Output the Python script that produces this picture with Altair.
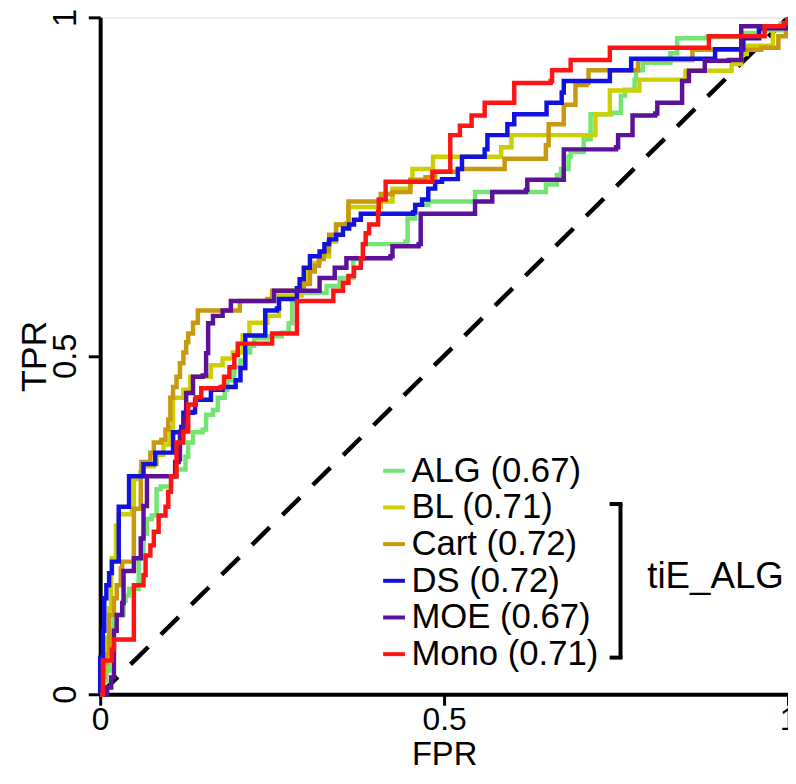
import altair as alt
import pandas as pd

# ---- data (FPR, TPR) vertices ----
series_names = ["ALG (0.67)", "BL (0.71)", "Cart (0.72)", "DS (0.72)", "MOE (0.67)", "Mono (0.71)"]
series_colors = ["#74e474", "#cdd000", "#c8980e", "#1212e0", "#5c119a", "#ff1414"]

alg_fpr = [0, .003, .006, .009, .013, .020, .034, .037, .042, .056, .063, .068, .075, .082, .088, .095, .103, .111, .124, .128, .135, .149, .154, .164, .171, .181, .185, .195, .204, .211, .218, .224, .243, .264, .274, .279, .279, .286, .329, .348, .368, .368, .382, .382, .420, .444, .447, .458, .458, .477, .545, .545, .648, .648, .664, .670, .681, .684, .703, .713, .743, .757, .763, .777, .779, .789, .829, .839, .882, .932, .957, .990, 1]
alg_tpr = [0, .010, .020, .035, .069, .117, .138, .146, .156, .201, .237, .259, .264, .303, .307, .307, .322, .332, .351, .372, .387, .391, .413, .420, .438, .450, .464, .483, .493, .505, .515, .526, .529, .534, .548, .562, .581, .593, .603, .615, .621, .643, .654, .665, .665, .669, .703, .706, .723, .728, .728, .742, .742, .753, .767, .776, .794, .801, .820, .857, .859, .884, .893, .908, .922, .933, .947, .969, .971, .977, .981, .991, 1]

bl_fpr = [0, .003, .006, .010, .013, .016, .017, .023, .027, .046, .049, .056, .060, .078, .082, .092, .102, .106, .116, .121, .131, .161, .168, .178, .193, .207, .217, .236, .243, .260, .260, .293, .293, .300, .312, .319, .333, .343, .358, .361, .408, .425, .451, .454, .484, .484, .580, .583, .598, .598, .720, .720, .741, .741, .784, .784, .846, .851, .914, .918, .932, .940, .978, 1]
bl_tpr = [0, .032, .054, .083, .127, .179, .201, .249, .266, .274, .318, .322, .337, .340, .354, .369, .394, .438, .438, .450, .469, .486, .486, .496, .505, .530, .549, .549, .559, .567, .589, .592, .611, .625, .637, .647, .669, .694, .695, .720, .728, .747, .760, .776, .779, .794, .794, .808, .811, .826, .826, .857, .857, .892, .892, .908, .908, .921, .921, .931, .946, .958, .984, 1]

cart_fpr = [0, .003, .006, .009, .013, .020, .024, .030, .032, .046, .049, .056, .059, .060, .073, .078, .089, .095, .099, .102, .106, .111, .116, .121, .125, .128, .135, .142, .203, .203, .243, .250, .286, .296, .305, .312, .318, .325, .332, .333, .343, .358, .361, .404, .408, .425, .451, .451, .473, .487, .520, .588, .588, .645, .648, .652, .674, .674, .691, .691, .707, .710, .782, .782, .861, .861, .961, .986, .986, .997, 1]
cart_tpr = [0, .025, .047, .059, .117, .142, .161, .186, .196, .196, .274, .274, .328, .343, .357, .372, .376, .391, .406, .438, .454, .469, .489, .505, .520, .533, .549, .567, .567, .581, .584, .596, .596, .606, .625, .633, .643, .654, .669, .679, .694, .695, .728, .728, .739, .742, .742, .760, .764, .772, .776, .776, .791, .791, .811, .842, .842, .871, .874, .900, .903, .922, .922, .937, .937, .952, .955, .956, .972, .991, 1]

ds_fpr = [0, 0, .004, .006, .009, .013, .017, .027, .027, .042, .042, .063, .063, .080, .080, .102, .106, .118, .121, .135, .138, .161, .161, .178, .197, .197, .204, .211, .211, .240, .240, .257, .260, .286, .286, .290, .296, .305, .319, .326, .333, .343, .353, .362, .369, .379, .455, .458, .468, .477, .477, .487, .497, .520, .520, .526, .526, .559, .559, .563, .591, .592, .602, .648, .649, .659, .671, .674, .739, .741, .770, .772, .894, .894, .935, .935, .958, .958, 1]
ds_tpr = [0, .054, .094, .142, .161, .179, .196, .196, .277, .277, .322, .322, .340, .340, .357, .357, .387, .395, .416, .417, .435, .442, .450, .454, .454, .464, .482, .498, .530, .533, .567, .570, .584, .584, .600, .613, .630, .647, .654, .665, .672, .679, .688, .694, .701, .710, .712, .723, .731, .738, .747, .757, .761, .767, .776, .786, .794, .794, .805, .826, .826, .842, .857, .857, .874, .874, .889, .906, .906, .922, .922, .939, .939, .953, .953, .969, .969, .984, 1]

moe_fpr = [0, .006, .010, .016, .020, .024, .032, .034, .034, .045, .049, .053, .059, .063, .068, .099, .109, .114, .116, .121, .125, .135, .149, .154, .157, .164, .178, .190, .253, .253, .318, .319, .341, .341, .358, .422, .425, .463, .466, .545, .545, .570, .570, .619, .621, .674, .674, .750, .753, .774, .774, .807, .810, .846, .846, .856, .878, .879, .914, .932, .932, .961, 1]
moe_tpr = [0, 0, .010, .025, .094, .117, .135, .146, .182, .182, .201, .201, .230, .278, .322, .322, .343, .347, .388, .406, .445, .469, .471, .504, .548, .559, .567, .581, .584, .596, .596, .615, .615, .630, .644, .647, .662, .665, .710, .713, .728, .728, .742, .745, .760, .760, .805, .808, .826, .826, .855, .858, .874, .874, .906, .921, .921, .936, .937, .960, .987, .987, 1]

mono_fpr = [0, .004, .016, .017, .020, .049, .049, .063, .066, .073, .078, .085, .095, .099, .103, .111, .121, .128, .139, .147, .175, .180, .188, .195, .200, .247, .250, .282, .286, .339, .339, .353, .361, .369, .379, .382, .386, .391, .404, .405, .415, .483, .483, .507, .509, .520, .523, .540, .559, .598, .602, .655, .657, .684, .684, .741, .741, .885, .885, .966, .966, .994, 1]
mono_tpr = [0, .050, .050, .066, .081, .081, .161, .176, .205, .220, .240, .264, .277, .299, .322, .372, .388, .428, .439, .452, .454, .469, .483, .501, .518, .518, .533, .533, .581, .584, .596, .608, .618, .630, .644, .665, .681, .694, .713, .731, .757, .760, .772, .772, .826, .826, .840, .855, .874, .874, .903, .906, .922, .922, .937, .940, .955, .955, .972, .972, .987, .991, 1]

diag_fpr = [0, 1]
diag_tpr = [0, 1]

x_ticks = [0, 0.5, 1]
y_ticks = [0, 0.5, 1]
group_label = "tiE_ALG"

FONT = "Liberation Sans"
W, H = 694, 683

rows = []
for name, fx, ty in zip(series_names,
                        [alg_fpr, bl_fpr, cart_fpr, ds_fpr, moe_fpr, mono_fpr],
                        [alg_tpr, bl_tpr, cart_tpr, ds_tpr, moe_tpr, mono_tpr]):
    for i, (a, b) in enumerate(zip(fx, ty)):
        rows.append({"model": name, "FPR": a, "TPR": b, "i": i})
df = pd.DataFrame(rows)
diag = pd.DataFrame({"FPR": diag_fpr, "TPR": diag_tpr})

xscale = alt.Scale(domain=[0, 1], nice=False, zero=False)
yscale = alt.Scale(domain=[0, 1], nice=False, zero=False)

x_axis = alt.Axis(values=x_ticks, title="FPR", grid=False, format="~g",
                  labelFontSize=32, titleFontSize=33, labelFont=FONT, titleFont=FONT,
                  labelColor="black", titleColor="black", titleFontWeight="normal",
                  domainColor="black", domainWidth=4, tickColor="black", tickWidth=3,
                  tickSize=11, labelPadding=0, labelFlush=False, labelOverlap=False,
                  titleX=W / 2, titleY=71, titleAlign="center", titleBaseline="alphabetic")
y_axis = alt.Axis(values=y_ticks, title="TPR", grid=False, format="~g",
                  labelFontSize=33, titleFontSize=36, labelFont=FONT, titleFont=FONT,
                  labelColor="black", titleColor="black", titleFontWeight="normal",
                  domainColor="black", domainWidth=4, tickColor="black", tickWidth=3,
                  tickSize=12, labelPadding=6, labelAngle=270,
                  labelAlign="center", labelBaseline="bottom", labelFlush=False,
                  labelOverlap=False,
                  titleX=-47, titleY=H / 2, titleAngle=270, titleAlign="center",
                  titleBaseline="bottom")

diag_line = alt.Chart(diag).mark_line(color="black", strokeWidth=4.5, strokeDash=[25, 18]).encode(
    x=alt.X("FPR:Q", scale=xscale, axis=x_axis),
    y=alt.Y("TPR:Q", scale=yscale, axis=y_axis),
)

curves = alt.Chart(df).mark_line(strokeWidth=4.5, interpolate="step-after").encode(
    x=alt.X("FPR:Q", scale=xscale, axis=x_axis),
    y=alt.Y("TPR:Q", scale=yscale, axis=y_axis),
    color=alt.Color("model:N", sort=series_names,
                    scale=alt.Scale(domain=series_names, range=series_colors),
                    legend=alt.Legend(title=None, orient="none", legendX=279, legendY=440,
                                      symbolType="stroke", symbolSize=484, symbolStrokeWidth=4,
                                      labelFontSize=35, labelFont=FONT, labelColor="black",
                                      labelOffset=0, rowPadding=1, padding=0,
                                      labelLimit=400)),
    order=alt.Order("i:Q"),
)

bracket_df = pd.DataFrame({"label": [group_label]})
br_v = alt.Chart(bracket_df).mark_rule(color="black", strokeWidth=4).encode(
    x=alt.value(525), y=alt.value(491), y2=alt.value(646))
br_t = alt.Chart(bracket_df).mark_rule(color="black", strokeWidth=4).encode(
    x=alt.value(514), x2=alt.value(527), y=alt.value(491))
br_b = alt.Chart(bracket_df).mark_rule(color="black", strokeWidth=4).encode(
    x=alt.value(514), x2=alt.value(527), y=alt.value(646))
br_text = alt.Chart(bracket_df).mark_text(align="left", baseline="middle", fontSize=37,
                                          font=FONT, color="black").encode(
    x=alt.value(552), y=alt.value(565), text="label:N")

chart = alt.layer(diag_line, curves, br_v, br_t, br_b, br_text).properties(
    width=W, height=H,
    autosize=alt.AutoSizeParams(type="none"),
    padding={"left": 93, "top": 6, "right": 0, "bottom": 78},
).configure_view(stroke=None).configure(background="white")

chart.save("out.html", embed_options={"renderer": "svg", "actions": False})
